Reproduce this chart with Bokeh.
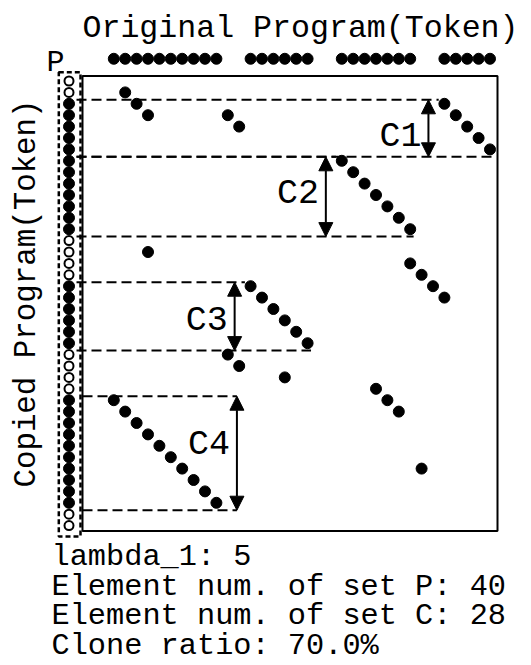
from bokeh.plotting import figure
from bokeh.models import Range1d, Arrow, NormalHead
from bokeh.core.properties import value
from bokeh.embed import file_html
from bokeh.resources import INLINE

# ---------------- data ----------------
clone_names = ["C1", "C2", "C3", "C4"]
clone_x_start = [29, 20, 12, 0]
clone_x_end = [33, 26, 17, 9]
clone_row_start = [2, 7, 18, 28]
clone_row_end = [6, 13, 23, 37]

# token matches (x: original-program token, row: copied-program token)
match_x = [1, 2, 3, 10, 11,
           29, 30, 31, 32, 33,
           20, 21, 22, 23, 24, 25, 26,
           3,
           26, 27, 28, 29,
           12, 13, 14, 15, 16, 17,
           10, 11, 15,
           23, 24, 25,
           0, 1, 2, 3, 4, 5, 6, 7, 8, 9,
           27]
match_row = [1, 2, 3, 3, 4,
             2, 3, 4, 5, 6,
             7, 8, 9, 10, 11, 12, 13,
             15,
             16, 17, 18, 19,
             18, 19, 20, 21, 22, 23,
             24, 25, 26,
             27, 28, 29,
             28, 29, 30, 31, 32, 33, 34, 35, 36, 37,
             34]

# original-program tokens that belong to a clone (top row)
orig_tokens = [0, 1, 2, 3, 4, 5, 6, 7, 8, 9,
               12, 13, 14, 15, 16, 17,
               20, 21, 22, 23, 24, 25, 26,
               29, 30, 31, 32, 33]

# copied-program tokens (set P): 1 = part of a clone, 0 = not
copied_in_clone = [0, 0,
                   1, 1, 1, 1, 1,
                   1, 1, 1, 1, 1, 1, 1,
                   0, 0, 0, 0,
                   1, 1, 1, 1, 1, 1,
                   0, 0, 0, 0,
                   1, 1, 1, 1, 1, 1, 1, 1, 1, 1,
                   0, 0]

lambda_1 = 5

# ---------------- layout helpers (page px -> data units) ----------------
U = 11.4
def dx(px):
    return (px - 113.3) / U
def dy(px):
    return (px - 80.5) / U

# vertical centre of each clone label (layout)
label_centre_px = [136, 193, 320, 444]

W, H = 531, 665
p = figure(width=W, height=H,
           x_range=Range1d(dx(0), dx(W)),
           y_range=Range1d(dy(H), dy(0)),
           output_backend="svg", toolbar_location=None, tools="",
           x_axis_type=None, y_axis_type=None, min_border=0,
           outline_line_color=None,
           background_fill_color="white", border_fill_color="white")
p.min_border_left = p.min_border_right = p.min_border_top = p.min_border_bottom = 0

FONT = value("Liberation Mono")

# frame
p.quad(left=[dx(82)], right=[dx(497)], top=[dy(75.5)], bottom=[dy(530.5)],
       fill_color=None, line_color="black", line_width=2)

# dashed box around copied-program column
col_x = dx(68.5)
p.quad(left=[dx(58.3)], right=[dx(80)], top=[dy(71.7)], bottom=[dy(536)],
       fill_color=None, line_color="black", line_width=2.5, line_dash="5 3")

# clone boundary lines, arrows, labels
line_x0, line_y0, line_x1, line_y1 = [], [], [], []
for i, name in enumerate(clone_names):
    xs, xe = clone_x_start[i], clone_x_end[i]
    top = clone_row_start[i] - 0.35
    bot = clone_row_end[i] + 0.65
    ax = xs - 1.4 if xs >= 2 else xe + 1.8
    start = dx(82) if xs < 2 else dx(76)
    line_x0 += [start, start]
    line_y0 += [top, bot]
    line_x1 += [max(xs - 0.5, ax), max(xe + 0.3, ax)]
    line_y1 += [top, bot]
    p.add_layout(Arrow(start=NormalHead(size=14, fill_color="black", line_color="black"),
                       end=NormalHead(size=14, fill_color="black", line_color="black"),
                       x_start=ax, y_start=top, x_end=ax, y_end=bot,
                       line_width=2, line_color="black"))
    p.text(x=[ax - 0.6], y=[dy(label_centre_px[i])], text=[name], text_font=FONT,
           text_font_size=value("35px"), text_align="right", text_baseline="middle",
           text_color="black")

p.segment(x0=line_x0, y0=line_y0, x1=line_x1, y1=line_y1,
          line_color="black", line_width=2, line_dash="10 5")

# match dots
p.scatter(x=match_x, y=match_row, size=11, marker="circle",
          fill_color="black", line_color="black")

# top row: original tokens
p.scatter(x=orig_tokens, y=[-1.95] * len(orig_tokens), size=11, marker="circle",
          fill_color="black", line_color="black")

# left column: copied tokens
rows = list(range(len(copied_in_clone)))
filled = [r for r, c in zip(rows, copied_in_clone) if c == 1]
empty = [r for r, c in zip(rows, copied_in_clone) if c == 0]
p.scatter(x=[col_x] * len(filled), y=filled, size=11, marker="circle",
          fill_color="black", line_color="black")
p.scatter(x=[col_x] * len(empty), y=empty, size=9, marker="circle",
          fill_color="white", line_color="black", line_width=2)

# texts
p.text(x=[dx(300)], y=[dy(28)], text=["Original Program(Token)"], text_font=FONT,
       text_font_size=value("31.6px"), text_align="center", text_baseline="alphabetic")
p.text(x=[dx(55)], y=[dy(62)], text=["P"], text_font=FONT,
       text_font_size=value("30px"), text_align="center", text_baseline="alphabetic")
p.text(x=[dx(26)], y=[dy(293)], text=["Copied Program(Token)"], text_font=FONT,
       text_font_size=value("30.8px"), text_align="center", text_baseline="middle",
       angle=1.5707963)

n_P = len(copied_in_clone)
n_C = sum(copied_in_clone)
info = [f"lambda_1: {lambda_1}",
        f"Element num. of set P: {n_P}",
        f"Element num. of set C: {n_C}",
        f"Clone ratio: {100.0 * n_C / n_P:.1f}%"]
p.text(x=[dx(51)] * 4, y=[dy(556.5), dy(586), dy(615.5), dy(645)], text=info,
       text_font=FONT, text_font_size=value("30.3px"), text_align="left",
       text_baseline="alphabetic")

open("out.html", "w").write(file_html(p, INLINE))
